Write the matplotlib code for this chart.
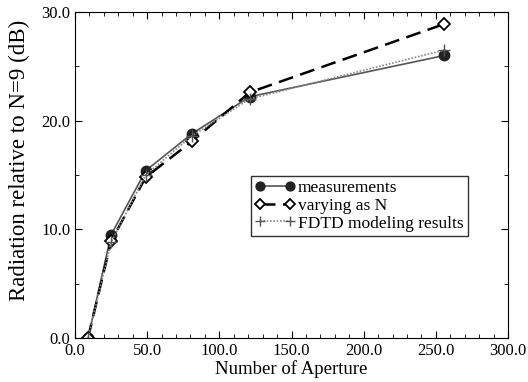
import matplotlib.pyplot as plt
from matplotlib.ticker import MultipleLocator, FormatStrFormatter

plt.rcParams['font.family'] = ['Liberation Serif', 'DejaVu Serif']

n_aperture = [9, 25, 49, 81, 121, 256]
measured = [0.0, 9.5, 15.4, 18.8, 22.2, 26.0]
varying_n = [0.0, 8.9, 14.8, 18.1, 22.6, 28.9]
fdtd = [0.0, 8.8, 15.0, 18.6, 22.0, 26.5]

fig = plt.figure(figsize=(5.28, 3.82), dpi=100)
ax = fig.add_axes([75 / 528, 44 / 382, 433 / 528, 326 / 382])

ax.plot(n_aperture, measured, color='#555555', lw=1.2, marker='o', ms=7.5,
        mfc='#222222', mec='#222222', label='measurements')
ax.plot(n_aperture, varying_n, color='black', lw=1.8, ls=(0, (6, 3)), marker='D', ms=6,
        mfc='white', mec='black', mew=1.3, label='varying as N')
ax.plot(n_aperture, fdtd, color='#888888', lw=1.2, ls=(0, (1, 1)), marker='+', ms=8,
        mec='#555555', label='FDTD modeling results')

ax.set_xlim(0, 300)
ax.set_ylim(0, 30)
ax.xaxis.set_major_locator(MultipleLocator(50))
ax.xaxis.set_minor_locator(MultipleLocator(10))
ax.yaxis.set_major_locator(MultipleLocator(10))
ax.yaxis.set_minor_locator(MultipleLocator(5))
ax.xaxis.set_major_formatter(FormatStrFormatter('%.1f'))
ax.yaxis.set_major_formatter(FormatStrFormatter('%.1f'))
ax.tick_params(which='both', direction='in', top=True, right=True, labelsize=12)
ax.tick_params(which='major', length=5)
ax.tick_params(which='minor', length=3)

ax.set_xlabel('Number of Aperture', fontsize=13.5, labelpad=1)
ax.set_ylabel('Radiation relative to N=9 (dB)', fontsize=16.5)
ax.yaxis.set_label_coords(-0.104, 0.546)

leg = ax.legend(loc='upper left', bbox_to_anchor=(0.406, 0.497), fontsize=12.5, frameon=True,
                fancybox=False, edgecolor='black', borderpad=0.25, labelspacing=0.08,
                handlelength=2.3, handletextpad=0.15, borderaxespad=0, numpoints=2,
                markerscale=0.85)
leg.get_frame().set_linewidth(1.0)

fig.savefig('out.png', dpi=100)
